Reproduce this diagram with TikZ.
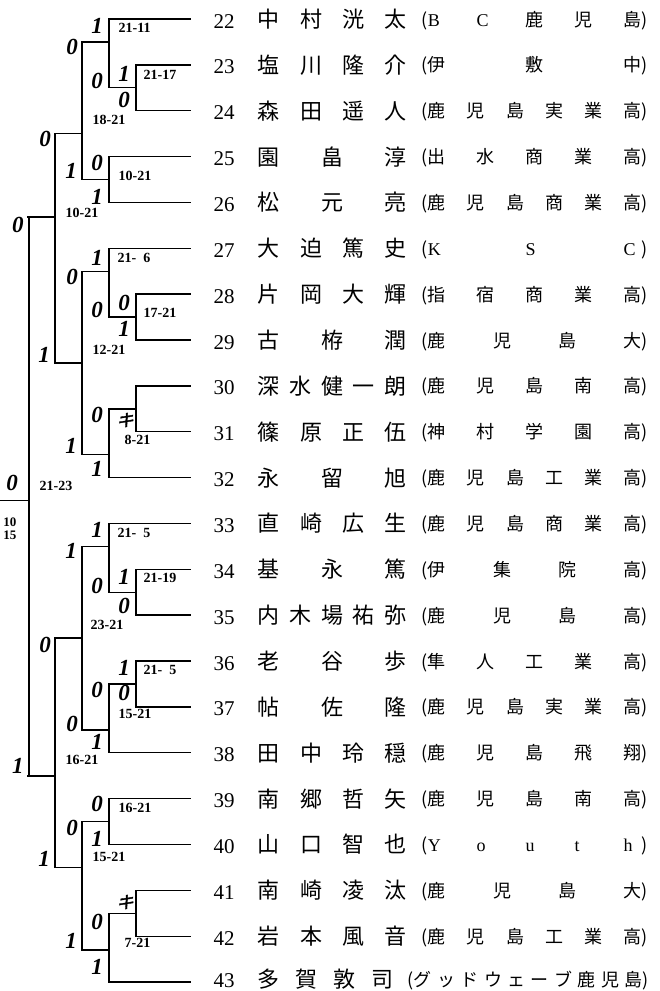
\documentclass[tikz,border=0pt]{standalone}
\usepackage{fontspec}
\setmainfont{Liberation Serif}
\newfontfamily\jpfont{Noto Sans CJK JP}
\newfontfamily\kifont[FakeSlant=0.25,FakeBold=2]{Noto Sans CJK JP}
\newcommand\hw[1]{\makebox[1em][l]{\rmfamily#1}}
\frenchspacing

\begin{document}
\begin{tikzpicture}[x=1pt, y=-1pt,
  line width=1.4pt, line cap=rect,
  res/.style={font=\fontsize{23}{23}\selectfont\bfseries\itshape, inner sep=0pt},
  setsc/.style={font=\fontsize{14}{14}\selectfont\bfseries, inner sep=0pt, anchor=west},
  ki/.style={font=\fontsize{17}{17}\selectfont\kifont, inner sep=0pt},
  num/.style={font=\fontsize{21}{21}\selectfont, inner sep=0pt, anchor=base west},
  player/.style={font=\fontsize{22}{22}\selectfont\jpfont, inner sep=0pt, anchor=base west},
  school/.style={font=\fontsize{18}{18}\selectfont\jpfont, inner sep=0pt, anchor=base west},
]
\useasboundingbox (0,0) rectangle (660,991);

% players
\foreach \n/\x/\nm/\sch in {22/109/中 村 洸 太/(\hw{B} \hw{C} 鹿 児 島),
  23/136/塩 川 隆 介/(伊 敷 中),
  24/136/森 田 遥 人/(鹿 児 島 実 業 高),
  25/109/園 畠 淳/(出 水 商 業 高),
  26/109/松 元 亮/(鹿 児 島 商 業 高),
  27/109/大 迫 篤 史/(\hw{K} \hw{S} \hw{C}),
  28/136/片 岡 大 輝/(指 宿 商 業 高),
  29/136/古 栫 潤/(鹿 児 島 大),
  30/136/深 水 健 一 朗/(鹿 児 島 南 高),
  31/136/篠 原 正 伍/(神 村 学 園 高),
  32/109/永 留 旭/(鹿 児 島 工 業 高),
  33/109/直 崎 広 生/(鹿 児 島 商 業 高),
  34/136/基 永 篤/(伊 集 院 高),
  35/136/内 木 場 祐 弥/(鹿 児 島 高),
  36/136/老 谷 歩/(隼 人 工 業 高),
  37/136/帖 佐 隆/(鹿 児 島 実 業 高),
  38/109/田 中 玲 穏/(鹿 児 島 飛 翔),
  39/109/南 郷 哲 矢/(鹿 児 島 南 高),
  40/109/山 口 智 也/(\hw{Y} \hw{o} \hw{u} \hw{t} \hw{h}),
  41/136/南 崎 凌 汰/(鹿 児 島 大),
  42/136/岩 本 風 音/(鹿 児 島 工 業 高)} {
  \pgfmathsetmacro\y{19+(\n-22)*45.86}
  \draw (\x,\y) -- (190,\y);
  \node[num] (no\n) at (213,\y+9) {\n};
  \node[player] (pl\n) at (257,\y+8.5) {\makebox[149pt][s]{\nm}};
  \node[school] (sc\n) at (421,\y+7) {\makebox[226pt][s]{\sch}};
}
\draw (109,982.06) -- (190,982.06);
\node[num] (no43) at (213,987) {43};
\node[player] (pl43) at (257,987.5) {\makebox[136pt][s]{多 賀 敦 司}};
\node[school] (sc43) at (407,986.5) {\makebox[241pt][s]{(グ ッ ド ウ ェ ー ブ 鹿 児 島)}};

% matches: column x, top, bottom, winner line
\foreach \x/\t/\b/\o in {
  136/64.86/110.72/87.79, 136/294.16/340.02/317.09, 136/385.88/431.74/408.81,
  136/569.32/615.18/592.25, 136/661.04/706.90/683.97, 136/890.34/936.20/913.27,
  109/19/87.79/41.93, 109/156.58/202.44/179.51, 109/248.30/317.09/271.23,
  109/408.81/477.60/454.67, 109/523.46/592.25/546.39, 109/683.97/752.76/729.83,
  109/798.62/844.48/821.55, 109/913.27/982.06/950,
  82/41.93/179.51/133.65, 82/271.23/454.67/362.95,
  82/546.39/729.83/638.11, 82/821.55/950/867.41,
  55/133.65/362.95/217, 55/638.11/867.41/776}
  \draw (\x,\t) -- (\x,\b) (\x-27,\o) -- (\x,\o);
\draw (29,217) -- (29,776) (0,500.53) -- (29,500.53);

% scores 22-26
\node[res] (G1) at (97,26) {1};
\node[setsc] (Gs) at (118,28) {21-11};
\node[res] (A1) at (124,74) {1};
\node[setsc] (As) at (143,75) {21-17};
\node[res] (A2) at (124,100) {0};
\node[res] (G2) at (97,81) {0};
\node[res] (O1) at (72,47) {0};
\node[setsc] (Os) at (92,120) {18-21};
\node[res] (S1) at (45,139) {0};
\node[res] (H1) at (97,163) {0};
\node[setsc] (Hs) at (118,176) {10-21};
\node[res] (O2) at (71,171) {1};
\node[res] (H2) at (97,197) {1};
\node[setsc] (Ss) at (65,213) {10-21};
\node[res] (U1) at (18,225) {0};
% scores 27-32
\node[res] (I1) at (97,258) {1};
\node[setsc] (Is) at (117,258) {21-\phantom{0}6};
\node[res] (P1) at (72,277) {0};
\node[res] (B1) at (124,303) {0};
\node[setsc] (Bs) at (143,313) {17-21};
\node[res] (I2) at (97,310) {0};
\node[res] (B2) at (124,329) {1};
\node[setsc] (Ps) at (92,350) {12-21};
\node[res] (S2) at (44,355) {1};
\node[res] (J1) at (97,415) {0};
\node[ki] (Ck) at (125,420) {キ};
\node[setsc] (Js) at (124,440) {8-21};
\node[res] (P2) at (71,446) {1};
\node[res] (J2) at (97,469) {1};
% final
\node[res] (U0) at (12,483) {0};
\node[setsc] (Us) at (39,486) {21-23};
\node[setsc, font=\fontsize{13}{13}\selectfont\bfseries, anchor=base east] (Ux1) at (17,526) {10};
\node[setsc, font=\fontsize{13}{13}\selectfont\bfseries, anchor=base east] (Ux2) at (17,539) {15};
% scores 33-38
\node[res] (K1) at (97,530) {1};
\node[setsc] (Ks) at (117,533) {21-\phantom{0}5};
\node[res] (Q1) at (71,551) {1};
\node[res] (D1) at (124,577) {1};
\node[setsc] (Ds) at (143,578) {21-19};
\node[res] (K2) at (97,586) {0};
\node[res] (D2) at (124,606) {0};
\node[setsc] (Qs) at (90,625) {23-21};
\node[res] (T1) at (45,645) {0};
\node[res] (E1) at (124,668) {1};
\node[setsc] (Es) at (143,670) {21-\phantom{0}5};
\node[res] (L1) at (97,690) {0};
\node[res] (E2) at (124,693) {0};
\node[setsc] (Ls) at (118,714) {15-21};
\node[res] (Q2) at (72,724) {0};
\node[res] (L2) at (97,742) {1};
\node[setsc] (Ts) at (65,760) {16-21};
\node[res] (U2) at (18,766) {1};
% scores 39-43
\node[res] (M1) at (97,804) {0};
\node[setsc] (Ms) at (118,808) {16-21};
\node[res] (R1) at (72,828) {0};
\node[res] (M2) at (97,839) {1};
\node[setsc] (Rs) at (92,857) {15-21};
\node[res] (T2) at (44,859) {1};
\node[ki] (Fk) at (125,902) {キ};
\node[res] (N1) at (97,922) {0};
\node[setsc] (Ns) at (124,943) {7-21};
\node[res] (R2) at (71,941) {1};
\node[res] (N2) at (97,967) {1};
\end{tikzpicture}
\end{document}
